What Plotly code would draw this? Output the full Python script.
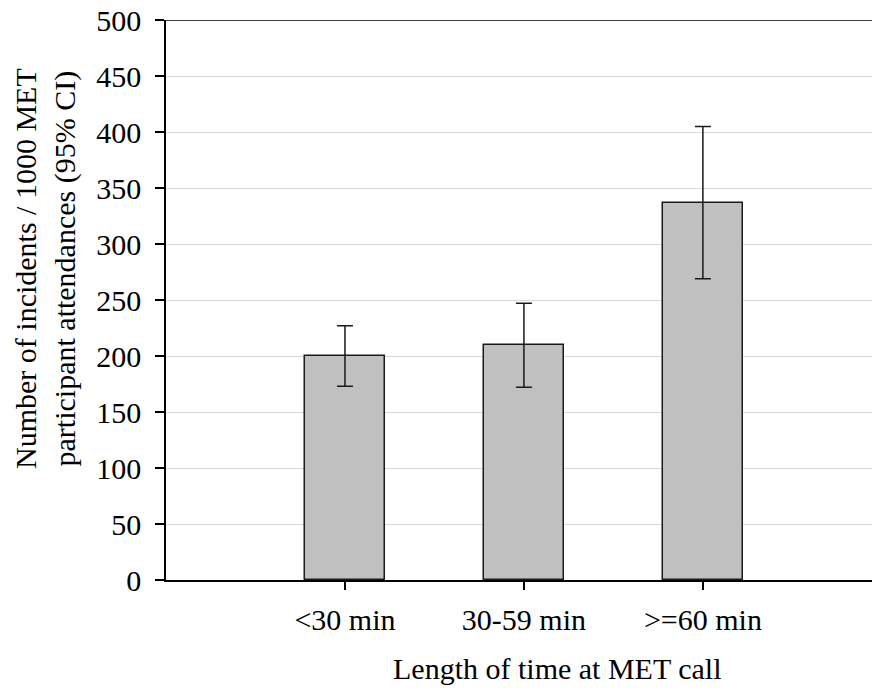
import plotly.graph_objects as go

categories = ["<30 min", "30-59 min", ">=60 min"]
rates = [200, 210, 337]
ci_lower = [173, 172, 269]
ci_upper = [227, 247, 405]

x_pos = list(range(len(categories)))
err_plus = [u - r for u, r in zip(ci_upper, rates)]
err_minus = [r - l for r, l in zip(rates, ci_lower)]

FONT = "Liberation Serif, Times New Roman, serif"
FS = 30

fig = go.Figure()
fig.add_trace(go.Bar(
    x=x_pos, y=rates, width=0.447,
    marker=dict(color="#c0c0c0", line=dict(color="#1a1a1a", width=1.5)),
    error_y=dict(type="data", symmetric=False, array=err_plus, arrayminus=err_minus,
                 color="#1a1a1a", thickness=1.5, width=8),
    showlegend=False,
))

fig.update_layout(
    width=872, height=688,
    margin=dict(l=166, r=0, t=20, b=108),
    paper_bgcolor="white", plot_bgcolor="white",
    font=dict(family=FONT, size=FS, color="black"),
    bargap=0,
    xaxis=dict(
        range=[-1.0, 2.945], tickmode="array", tickvals=x_pos, ticktext=categories,
        showgrid=False, zeroline=False, showline=True, linecolor="black", linewidth=1.5,
        ticks="outside", ticklen=8, tickwidth=1.5, tickcolor="black",
        tickfont=dict(family=FONT, size=FS),
        ticklabelstandoff=4,
    ),
    yaxis=dict(
        range=[0, 500], tickvals=list(range(0, 501, 50)),
        showgrid=True, gridcolor="#d9d9d9", gridwidth=1.2, zeroline=False,
        showline=True, linecolor="black", linewidth=1.5,
        ticks="outside", ticklen=9, tickwidth=1.5, tickcolor="black",
        tickfont=dict(family=FONT, size=FS),
        ticklabelstandoff=8,
    ),
    shapes=[dict(type="line", xref="paper", yref="y", x0=0, x1=1, y0=500, y1=500,
                 line=dict(color="black", width=1.5))],
    annotations=[
        dict(
            text="Number of incidents / 1000 MET<br>participant attendances (95% CI)",
            xref="paper", yref="paper", x=0, y=0.5, xshift=-121, yshift=31,
            xanchor="center", yanchor="middle", textangle=-90, showarrow=False,
            font=dict(family=FONT, size=FS), align="center",
        ),
        dict(
            text="Length of time at MET call",
            xref="paper", yref="paper", x=0.5545, y=0, yshift=-88,
            xanchor="center", yanchor="middle", showarrow=False,
            font=dict(family=FONT, size=FS),
        ),
    ],
)

fig.write_html("out.html", config={"displayModeBar": False},
               post_script="document.body.style.margin='0';document.body.style.overflow='hidden';")
